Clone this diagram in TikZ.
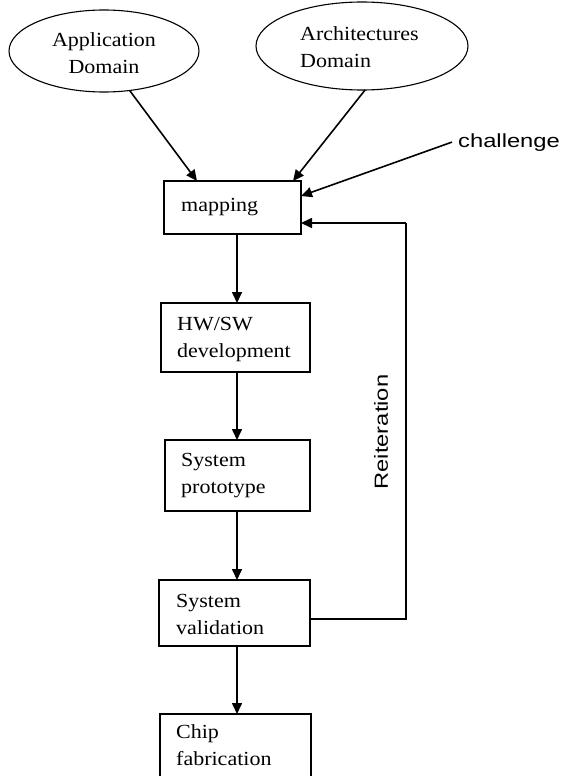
\documentclass[tikz,border=0pt]{standalone}
\usepackage{fontspec}
\setmainfont{Liberation Serif}[FakeStretch=1.1]
\setsansfont{Liberation Sans}[FakeStretch=1.25]
\usetikzlibrary{arrows.meta,shapes.geometric,calc}

\begin{document}
\begin{tikzpicture}[x=1pt,y=-1pt,
  arr/.style={line width=1.6pt,-{Triangle[length=11pt,width=10pt]}},
  plain/.style={line width=1.3pt},
  stagebox/.style={draw,line width=1.3pt,rectangle,inner sep=0pt,outer sep=0pt},
  domainshape/.style={draw,line width=1.1pt,ellipse,inner sep=0pt,outer sep=0pt},
  lbl/.style={font=\fontsize{20}{27}\selectfont,inner sep=0pt,anchor=base west,align=left},
  clbl/.style={lbl,anchor=base,align=center},
  sans/.style={font=\sffamily\fontsize{19}{22}\selectfont,inner sep=0pt}]
\path[use as bounding box,clip] (0,0) rectangle (563,776);

% input domains (label nodes are placed by the baseline of their last line)
\node[domainshape,minimum width=190pt,minimum height=82pt] (app) at (104,51) {};
\node[domainshape,minimum width=212pt,minimum height=88pt] (arch) at (362,46) {};
\node[clbl] (appt) at (104,74) {Application\\Domain};
\node[lbl] (archt) at (300,67) {Architectures\\Domain};

% design flow stages
\node[stagebox,minimum width=137pt,minimum height=53pt] (map) at (232.5,207.5) {};
\node[lbl] (mapt) at (181,211) {mapping};
\node[stagebox,minimum width=149pt,minimum height=69pt] (hw) at (235.5,337.5) {};
\node[lbl] (hwt) at (177,357) {HW/SW\\development};
\node[stagebox,minimum width=145pt,minimum height=71pt] (proto) at (237.5,475.5) {};
\node[lbl] (protot) at (181,493) {System\\prototype};
\node[stagebox,minimum width=151pt,minimum height=66pt] (val) at (234.5,613) {};
\node[lbl] (valt) at (176,634) {System\\validation};
\node[stagebox,minimum width=151pt,minimum height=90pt] (chip) at (235.5,759) {};
\node[lbl] (chipt) at (176,765) {Chip\\fabrication};

% side labels
\node[sans,anchor=base west] (chal) at (458,147) {challenge};
\node[sans,rotate=90] (reit) at (381,432) {Reiteration};

% connection points
\coordinate (appin) at ($(map.north west)+(33,0)$);
\coordinate (archin) at ($(map.north west)+(129,0)$);
\coordinate (chalin) at ([yshift=11.5pt]map.east);
\coordinate (fbin) at ([yshift=-15.5pt]map.east);
\coordinate (fbout) at ([yshift=-6pt]val.east);
\coordinate (fbx) at (406,0);
\coordinate (down) at (237,0);

% connectors
\draw[arr] (app.303) -- (appin);
\draw[arr] (arch.274) -- (archin);
\draw[arr] ([shift={(-6pt,0pt)}]chal.west) -- (chalin);
\draw[arr] (down |- map.south) -- (down |- hw.north);
\draw[arr] (down |- hw.south) -- (down |- proto.north);
\draw[arr] (down |- proto.south) -- (down |- val.north);
\draw[arr] (down |- val.south) -- (down |- chip.north);
\draw[plain] (fbout) -- (fbout -| fbx) -- (fbx |- fbin);
\draw[arr] (fbx |- fbin) -- (fbin);
\end{tikzpicture}
\end{document}
